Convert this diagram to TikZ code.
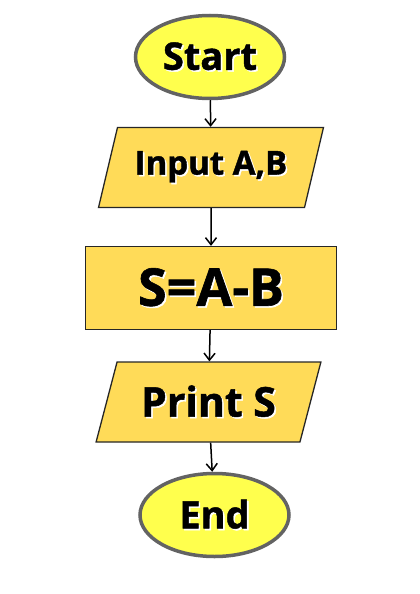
\documentclass[tikz,border=0pt]{standalone}
\usepackage{fontspec}
\setmainfont{Open Sans}[BoldFeatures={FakeBold=1.2}]
\usetikzlibrary{shapes.geometric,arrows.meta}
\definecolor{termfill}{HTML}{FFFF4D}
\definecolor{termline}{HTML}{636363}
\definecolor{boxfill}{HTML}{FFDB58}
\newcommand{\shadowtext}[1]{\makebox[0pt][l]{\hspace{1.6pt}\raisebox{-1.6pt}{\textcolor{white}{#1}}}#1}

\begin{document}
\begin{tikzpicture}[x=1pt,y=-1pt,
  terminal/.style={ellipse,draw=termline,fill=termfill,line width=3.5pt,
    minimum width=149pt,minimum height=83pt,inner sep=0pt,
    font=\fontsize{38}{40}\selectfont\bfseries},
  iobox/.style={trapezium,trapezium left angle=65,trapezium right angle=115,
    trapezium stretches=true,draw=black!85,fill=boxfill,line width=1.3pt,
    minimum width=225pt,minimum height=80pt,inner sep=0pt},
  procbox/.style={rectangle,draw=black!85,fill=boxfill,line width=1.3pt,
    minimum width=251pt,minimum height=83pt,inner sep=0pt,
    font=\fontsize{52}{54}\selectfont\bfseries},
  flow/.style={-{Straight Barb[length=7pt,width=11pt]},line width=1.5pt}]
\useasboundingbox (0,0) rectangle (420,594);
\node [terminal] (start) at (210,57) {\shadowtext{Start}};
\node [iobox,font=\fontsize{33}{36}\selectfont\bfseries] (input) at (211,167.5) {\shadowtext{Input A,B}};
\node [procbox] (calc) at (211,288) {\shadowtext{S=A-B}};
\node [iobox,font=\fontsize{41}{44}\selectfont\bfseries] (print) at (208.5,402) {\shadowtext{Print S}};
\node [terminal] (end) at (214.5,515) {\shadowtext{End}};
\draw [flow] (start) -- (input);
\draw [flow] (input) -- (calc);
\draw [flow] (calc) -- (print);
\draw [flow] (print) -- (end);
\end{tikzpicture}
\end{document}
